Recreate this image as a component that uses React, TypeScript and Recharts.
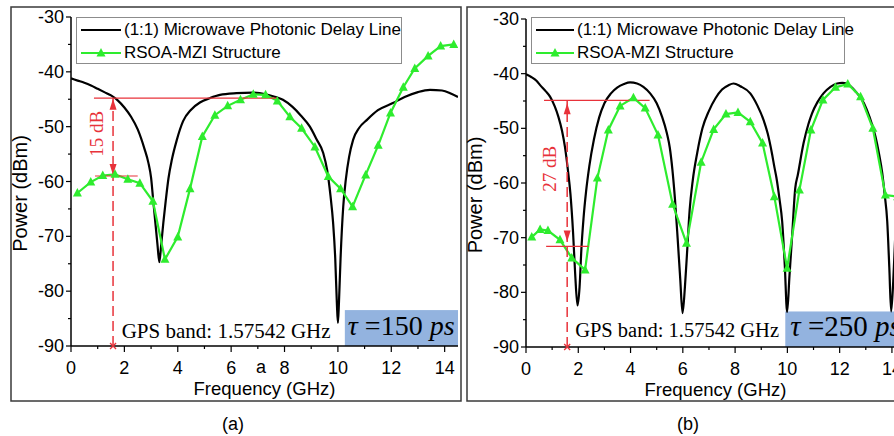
import React from "react";
import {
  LineChart,
  Line,
  XAxis,
  YAxis,
  ReferenceLine,
  ReferenceDot,
  ReferenceArea,
  Legend,
} from "recharts";

const SANS = '"Liberation Sans", Arial, sans-serif';
const SERIF = '"Liberation Serif", "Times New Roman", serif';
const RED = "#e8323a";
const GREEN = "#2eec2e";
const BLUE = "#93b3df";

const seriesNames = ["(1:1) Microwave Photonic Delay Line", "RSOA-MZI Structure"];
const xTicks = [0, 1, 2, 3, 4, 5, 6, 7, 8, 9, 10, 11, 12, 13, 14];
const yTicks = [-90, -85, -80, -75, -70, -65, -60, -55, -50, -45, -40, -35, -30];
const gpsLabel = "GPS band: 1.57542 GHz";
const gpsBand = 1.57542;

// (a) tau = 150 ps : [frequency GHz, power dBm]
const delayA: [number, number][] = [
  [0, -41.2], [0.25, -41.6], [0.5, -42.0], [0.75, -42.5], [1.0, -43.1],
  [1.25, -43.7], [1.5, -44.3], [1.75, -45.2], [2.0, -46.5], [2.25, -48.2],
  [2.5, -50.5], [2.75, -54.0], [2.9, -56.6], [3.0, -59.3], [3.08, -63.4],
  [3.16, -67.5], [3.24, -71.5], [3.31, -74.7], [3.38, -71.5], [3.46, -67.5],
  [3.55, -63.5], [3.65, -59.5], [3.78, -56.0], [3.96, -52.5], [4.2, -49.0],
  [4.5, -46.9], [4.83, -45.6], [5.2, -44.8], [5.58, -44.2], [6.2, -43.9],
  [6.8, -43.8], [7.3, -44.1], [7.6, -44.5], [7.94, -45.1], [8.3, -46.4],
  [8.6, -47.9], [8.95, -50.0], [9.2, -52.3], [9.45, -54.8], [9.6, -58.0],
  [9.72, -62.5], [9.82, -67.5], [9.9, -74.0], [9.96, -82.0], [10.0, -85.8],
  [10.04, -82.0], [10.1, -74.0], [10.2, -64.6], [10.3, -59.5], [10.42, -55.5],
  [10.57, -52.4], [10.8, -50.2], [11.08, -48.8], [11.5, -47.0], [12.06, -45.7],
  [12.5, -44.6], [13.0, -43.7], [13.45, -43.3], [13.9, -43.4], [14.25, -44.0],
  [14.5, -44.6],
];
const rsoaA: [number, number][] = [
  [0.24, -62.1], [0.74, -60.1], [1.19, -58.9], [1.65, -58.7], [2.13, -59.6],
  [2.58, -60.3], [3.07, -63.6], [3.52, -74.2], [4.0, -70.1], [4.46, -61.3],
  [4.92, -51.8], [5.39, -47.9], [5.87, -46.2], [6.35, -45.1], [6.83, -44.1],
  [7.29, -44.2], [7.73, -45.3], [8.2, -48.2], [8.64, -50.3], [9.14, -53.7],
  [9.64, -59.1], [10.1, -61.3], [10.55, -64.6], [11.04, -58.8], [11.51, -53.4],
  [11.97, -47.5], [12.45, -42.8], [12.88, -39.4], [13.38, -37.1], [13.85, -35.3],
  [14.34, -35.0],
];

// (b) tau = 250 ps
const delayB: [number, number][] = [
  [0, -40.1], [0.2, -40.6], [0.4, -41.3], [0.54, -42.1], [0.75, -43.2],
  [0.92, -44.2], [1.1, -46.0], [1.24, -47.9], [1.38, -50.5], [1.49, -53.4],
  [1.6, -57.5], [1.7, -62.0], [1.8, -69.0], [1.88, -76.5], [1.97, -82.4],
  [2.05, -79.0], [2.12, -72.0], [2.2, -66.5], [2.3, -61.5], [2.42, -57.0],
  [2.6, -52.0], [2.8, -48.0], [3.0, -45.4], [3.25, -43.6], [3.5, -42.5],
  [3.75, -41.9], [3.98, -41.6], [4.25, -41.8], [4.49, -42.4], [4.75, -43.6],
  [5.0, -45.4], [5.2, -47.8], [5.39, -50.9], [5.5, -53.5], [5.6, -57.5],
  [5.7, -63.0], [5.8, -70.0], [5.9, -77.5], [5.99, -83.8], [6.08, -79.0],
  [6.16, -72.9], [6.26, -65.0], [6.38, -59.5], [6.55, -54.5], [6.75, -50.0],
  [7.0, -46.8], [7.25, -44.5], [7.5, -42.9], [7.75, -42.1], [7.94, -41.8],
  [8.2, -42.3], [8.58, -43.6], [8.85, -45.8], [9.09, -48.5], [9.25, -51.0],
  [9.41, -54.6], [9.5, -57.0], [9.58, -59.0], [9.7, -63.0], [9.8, -67.0],
  [9.9, -75.0], [9.99, -83.6], [10.08, -77.0], [10.18, -69.8], [10.3, -61.0],
  [10.4, -58.5], [10.62, -52.7], [10.8, -49.3], [10.94, -47.3], [11.15, -45.2],
  [11.38, -43.6], [11.65, -42.4], [11.9, -41.8], [12.1, -41.7], [12.29, -41.9],
  [12.6, -43.2], [12.93, -45.4], [13.15, -48.0], [13.37, -51.5], [13.5, -54.5],
  [13.63, -58.2], [13.72, -62.0], [13.82, -67.0], [13.9, -75.5], [13.97, -83.5],
  [14.05, -78.0], [14.12, -70.5], [14.22, -63.0], [14.35, -57.5], [14.5, -53.5],
];
const rsoaB: [number, number][] = [
  [0.22, -69.9], [0.54, -68.5], [0.84, -68.7], [1.3, -70.4], [1.75, -73.7],
  [2.26, -75.9], [2.73, -59.1], [3.15, -50.3], [3.6, -45.9], [4.11, -44.4],
  [4.56, -46.3], [5.05, -51.2], [5.61, -63.9], [6.14, -71.0], [6.7, -56.2],
  [7.18, -50.2], [7.65, -47.4], [8.11, -47.1], [8.58, -48.8], [9.05, -52.7],
  [9.5, -62.5], [9.99, -75.6], [10.46, -61.3], [10.9, -50.3], [11.36, -44.8],
  [11.84, -42.5], [12.31, -41.9], [12.8, -44.2], [13.27, -50.0], [13.75, -62.2],
  [14.22, -62.5],
];

const toRows = (pts: [number, number][]) => pts.map(([f, p]) => ({ f, p }));

const Triangle = (props: any) => {
  const { cx, cy, index } = props;
  if (cx == null || cy == null) return <g key={`t-${index}`} />;
  return (
    <polygon
      key={`t-${index}`}
      points={`${cx},${cy - 5} ${cx - 4.5},${cy + 3.5} ${cx + 4.5},${cy + 3.5}`}
      fill={GREEN}
    />
  );
};

const XTick = (props: any) => {
  const { x, y, payload } = props;
  const major = payload.value % 2 === 0;
  return (
    <g>
      <line x1={x} x2={x} y1={y} y2={y + (major ? 6 : 3)} stroke="#000" strokeWidth={1.2} />
      {major && (
        <text x={x} y={y + 28} textAnchor="middle" fontFamily={SANS} fontSize={18} fill="#000">
          {payload.value}
        </text>
      )}
    </g>
  );
};

const YTick = (props: any) => {
  const { x, y, payload } = props;
  const major = payload.value % 10 === 0;
  return (
    <g>
      <line x1={x - (major ? 5 : 3)} x2={x} y1={y} y2={y} stroke="#000" strokeWidth={1.2} />
      {major && (
        <text x={x - 7} y={y + 6} textAnchor="end" fontFamily={SANS} fontSize={18} fill="#000">
          {payload.value}
        </text>
      )}
    </g>
  );
};

const XTitle = (props: any) => {
  const vb = props.viewBox;
  return (
    <text x={vb.x + vb.width / 2} y={vb.y + 49} textAnchor="middle" fontFamily={SANS} fontSize={18.5} fill="#000">
      Frequency (GHz)
    </text>
  );
};

const YTitle = (props: any) => {
  const vb = props.viewBox;
  const cx = vb.x + vb.width - 51;
  const cy = vb.y + vb.height / 2 + 12;
  return (
    <text
      x={cx}
      y={cy}
      transform={`rotate(-90 ${cx} ${cy})`}
      textAnchor="middle"
      dominantBaseline="central"
      fontFamily={SANS}
      fontSize={20}
      fill="#000"
    >
      Power (dBm)
    </text>
  );
};

const upArrow = (p: any) => (
  <polygon points={`${p.cx},${p.cy} ${p.cx - 3.5},${p.cy + 11} ${p.cx + 3.5},${p.cy + 11}`} fill={RED} />
);
const downArrow = (p: any) => (
  <polygon points={`${p.cx},${p.cy} ${p.cx - 3.5},${p.cy - 11} ${p.cx + 3.5},${p.cy - 11}`} fill={RED} />
);
const cross = (p: any) => (
  <path
    d={`M${p.cx - 3},${p.cy - 3}L${p.cx + 3},${p.cy + 3}M${p.cx - 3},${p.cy + 3}L${p.cx + 3},${p.cy - 3}`}
    stroke={RED}
    strokeWidth={1.3}
  />
);
const dbText = (text: string) => (p: any) => (
  <text
    x={p.cx}
    y={p.cy}
    transform={`rotate(-90 ${p.cx} ${p.cy})`}
    textAnchor="middle"
    dominantBaseline="central"
    fontFamily={SERIF}
    fontSize={19}
    fill={RED}
  >
    {text}
  </text>
);
const gpsText = (size: number) => (p: any) => (
  <text x={p.cx} y={p.cy} fontFamily={SERIF} fontSize={size} fill="#000">
    {gpsLabel}
  </text>
);
const tauShape = (value: string, dx: number, size: number) => (p: any) => (
  <g>
    <rect x={p.x} y={p.y} width={p.width} height={p.height} fill={BLUE} />
    <text x={p.x + dx} y={p.y + p.height - 11} fontFamily={SERIF} fontSize={size} fill="#000">
      <tspan fontStyle="italic">τ</tspan>
      {" ="}
      {value}
      <tspan fontStyle="italic">{" ps"}</tspan>
    </text>
  </g>
);

type Box = { left: number; top: number; width: number; height: number; sampleLeft: number; sampleLen: number; textLeft: number };

const legendContent = (box: Box) => (props: any) => (
  <div
    style={{
      width: box.width,
      height: box.height,
      border: "1px solid #8c8c8c",
      boxSizing: "border-box",
      background: "#fff",
      position: "relative",
      fontFamily: SANS,
      fontSize: 17,
      color: "#000",
    }}
  >
    {(props.payload || []).map((entry: any, i: number) => (
      <div key={i} style={{ position: "absolute", left: 0, top: i === 0 ? 2 : 25, height: 20, display: "flex", alignItems: "center", whiteSpace: "nowrap" }}>
        <svg width={box.textLeft} height={20} style={{ display: "block" }}>
          <line x1={box.sampleLeft} x2={box.sampleLeft + box.sampleLen} y1={10} y2={10} stroke={entry.color} strokeWidth={2.2} />
          {i === 1 && (
            <polygon
              points={`${box.sampleLeft + box.sampleLen / 2},5 ${box.sampleLeft + box.sampleLen / 2 - 4.5},13.5 ${box.sampleLeft + box.sampleLen / 2 + 4.5},13.5`}
              fill={GREEN}
            />
          )}
        </svg>
        <span style={{ lineHeight: "20px" }}>{entry.value}</span>
      </div>
    ))}
  </div>
);

type PanelProps = {
  left: number;
  width: number;
  margin: { top: number; right: number; bottom: number; left: number };
  delay: [number, number][];
  rsoa: [number, number][];
  legend: Box;
  topDb: number;
  bottomDb: number;
  topSpan: [number, number];
  bottomSpan: [number, number];
  upTip: number;
  downTip: number;
  dbLabel: string;
  dbPos: [number, number];
  tau: string;
  tauX1: number;
  tauTop: number;
  tauDx: number;
  tauSize: number;
  gpsPos: [number, number];
  gpsSize: number;
};

const Panel = (p: PanelProps) => (
  <div style={{ position: "absolute", left: p.left, top: 0 }}>
    <LineChart width={p.width} height={436} margin={p.margin}>
      <XAxis
        type="number"
        dataKey="f"
        domain={[0, 14.5]}
        ticks={xTicks}
        interval={0}
        tickSize={0}
        tickMargin={0}
        tickLine={false}
        tick={XTick}
        axisLine={{ stroke: "#000", strokeWidth: 1.5 }}
        height={30}
        allowDataOverflow
        label={{ content: XTitle }}
      />
      <YAxis
        type="number"
        domain={[-90, -30]}
        ticks={yTicks}
        interval={0}
        tickSize={0}
        tickMargin={0}
        tickLine={false}
        tick={YTick}
        axisLine={{ stroke: "#000", strokeWidth: 1.5 }}
        width={50}
        allowDataOverflow
        label={{ content: YTitle }}
      />
      <ReferenceArea x1={p.tauX1} x2={14.5} y1={-90} y2={p.tauTop} shape={tauShape(p.tau, p.tauDx, p.tauSize)} />
      <Line
        data={toRows(p.delay)}
        dataKey="p"
        name={seriesNames[0]}
        type="monotone"
        stroke="#000"
        strokeWidth={2.2}
        dot={false}
        activeDot={false}
        isAnimationActive={false}
      />
      <Line
        data={toRows(p.rsoa)}
        dataKey="p"
        name={seriesNames[1]}
        type="linear"
        stroke={GREEN}
        strokeWidth={2.2}
        dot={Triangle}
        activeDot={false}
        isAnimationActive={false}
      />
      <ReferenceLine segment={[{ x: p.topSpan[0], y: p.topDb }, { x: p.topSpan[1], y: p.topDb }]} stroke={RED} strokeWidth={1.2} />
      <ReferenceLine segment={[{ x: p.bottomSpan[0], y: p.bottomDb }, { x: p.bottomSpan[1], y: p.bottomDb }]} stroke={RED} strokeWidth={1.2} />
      <ReferenceLine segment={[{ x: gpsBand, y: -90 }, { x: gpsBand, y: p.topDb }]} stroke={RED} strokeWidth={1.5} strokeDasharray="10 5" />
      <ReferenceDot x={gpsBand} y={p.upTip} shape={upArrow} />
      <ReferenceDot x={gpsBand} y={p.downTip} shape={downArrow} />
      <ReferenceDot x={gpsBand} y={-90} shape={cross} />
      <ReferenceDot x={p.dbPos[0]} y={p.dbPos[1]} shape={dbText(p.dbLabel)} />
      <ReferenceDot x={p.gpsPos[0]} y={p.gpsPos[1]} shape={gpsText(p.gpsSize)} />
      <Legend
        layout="vertical"
        align="center"
        verticalAlign="middle"
        wrapperStyle={{ left: p.legend.left, top: p.legend.top, width: p.legend.width, height: p.legend.height }}
        content={legendContent(p.legend)}
      />
    </LineChart>
  </div>
);

export default function App() {
  return (
    <div style={{ position: "fixed", left: 0, top: 0, width: 894, height: 436, overflow: "hidden", background: "#fff" }}>
      <svg width={894} height={436} style={{ position: "absolute", left: 0, top: 0 }}>
        <rect x={11} y={7} width={450} height={394} fill="none" stroke="#3a3a3a" strokeWidth={1.5} />
        <rect x={467} y={7} width={460} height={394} fill="none" stroke="#3a3a3a" strokeWidth={1.5} />
        <text x={261} y={373} textAnchor="middle" fontFamily={SANS} fontSize={18} fill="#000">a</text>
        <text x={233} y={430} textAnchor="middle" fontFamily={SANS} fontSize={18} fill="#000">(a)</text>
        <text x={688} y={430} textAnchor="middle" fontFamily={SANS} fontSize={18} fill="#000">(b)</text>
      </svg>
      <Panel
        left={0}
        width={465}
        margin={{ top: 17, right: 7, bottom: 60, left: 21 }}
        delay={delayA}
        rsoa={rsoaA}
        legend={{ left: 76, top: 17, width: 326, height: 47, sampleLeft: 4, sampleLen: 40, textLeft: 47 }}
        topDb={-44.8}
        bottomDb={-59.0}
        topSpan={[0.86, 7.75]}
        bottomSpan={[0.9, 2.5]}
        upTip={-44.9}
        downTip={-58.8}
        dbLabel="15 dB"
        dbPos={[0.96, -51.3]}
        tau="150"
        tauX1={10.26}
        tauTop={-83.45}
        tauDx={3}
        tauSize={28}
        gpsPos={[1.9, -88.6]}
        gpsSize={21}
      />
      <Panel
        left={460}
        width={452}
        margin={{ top: 19, right: 7, bottom: 59, left: 16 }}
        delay={delayB}
        rsoa={rsoaB}
        legend={{ left: 71, top: 17, width: 314, height: 47, sampleLeft: 4, sampleLen: 38, textLeft: 45 }}
        topDb={-44.9}
        bottomDb={-71.6}
        topSpan={[0.69, 4.73]}
        bottomSpan={[0.77, 2.39]}
        upTip={-45.4}
        downTip={-70.7}
        dbLabel="27 dB"
        dbPos={[0.91, -57.4]}
        tau="250"
        tauX1={9.92}
        tauTop={-83.5}
        tauDx={5}
        tauSize={29}
        gpsPos={[1.88, -88.1]}
        gpsSize={20.5}
      />
    </div>
  );
}
